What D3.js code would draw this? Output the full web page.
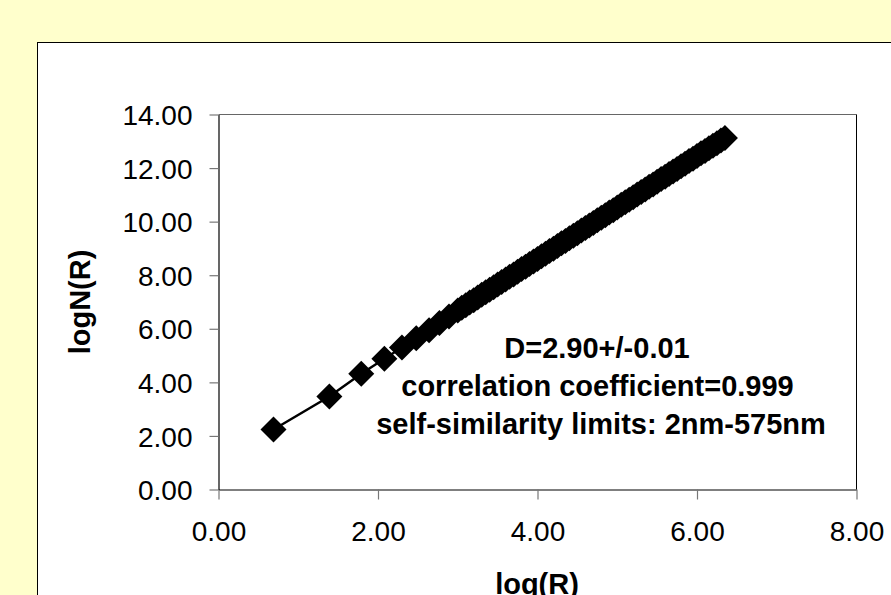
<!DOCTYPE html>
<html>
<head>
<meta charset="utf-8">
<script src="https://cdn.jsdelivr.net/npm/d3@7"></script>
<style>
  html, body { margin: 0; padding: 0; background: #FFFFCC; }
  svg { display: block; }
  text { font-family: "Liberation Sans", Arial, sans-serif; fill: #000; }
</style>
</head>
<body>
<svg id="chart" width="891" height="595"></svg>
<script>
// Box-counting data: log of radius R vs log of count N(R)
const logR = [0.69, 1.39, 1.79, 2.08, 2.30, 2.48, 2.64, 2.77, 2.89, 3.00,
  3.05, 3.10, 3.15, 3.20, 3.25, 3.30, 3.35, 3.40, 3.45, 3.50,
  3.55, 3.60, 3.65, 3.70, 3.75, 3.80, 3.85, 3.90, 3.95, 4.00,
  4.05, 4.10, 4.15, 4.20, 4.25, 4.30, 4.35, 4.40, 4.45, 4.50,
  4.55, 4.60, 4.65, 4.70, 4.75, 4.80, 4.85, 4.90, 4.95, 5.00,
  5.05, 5.10, 5.15, 5.20, 5.25, 5.30, 5.35, 5.40, 5.45, 5.50,
  5.55, 5.60, 5.65, 5.70, 5.75, 5.80, 5.85, 5.90, 5.95, 6.00,
  6.05, 6.10, 6.15, 6.20, 6.25, 6.30, 6.35];
const logN = [2.24, 3.47, 4.32, 4.88, 5.30, 5.65, 5.95, 6.22, 6.46, 6.68,
  6.79, 6.88, 6.98, 7.07, 7.17, 7.27, 7.36, 7.46, 7.55, 7.65,
  7.75, 7.84, 7.94, 8.03, 8.13, 8.23, 8.32, 8.42, 8.51, 8.61,
  8.71, 8.80, 8.90, 8.99, 9.09, 9.19, 9.28, 9.38, 9.47, 9.57,
  9.67, 9.76, 9.86, 9.95, 10.05, 10.15, 10.24, 10.34, 10.43, 10.53,
  10.63, 10.72, 10.82, 10.91, 11.01, 11.11, 11.20, 11.30, 11.39, 11.49,
  11.59, 11.68, 11.78, 11.87, 11.97, 12.07, 12.16, 12.26, 12.35, 12.45,
  12.55, 12.64, 12.74, 12.83, 12.93, 13.03, 13.12];

const xTicks = [0, 2, 4, 6, 8];
const yTicks = [0, 2, 4, 6, 8, 10, 12, 14];
const annotation = ["D=2.90+/-0.01", "correlation coefficient=0.999",
  "self-similarity limits: 2nm-575nm"];
const xTitle = "log(R)";
const yTitle = "logN(R)";

const points = logR.map((x, i) => ({ x, y: logN[i] }));

const svg = d3.select("#chart");

// chart panel
svg.append("rect")
  .attr("x", 37.5).attr("y", 42.5)
  .attr("width", 900).attr("height", 600)
  .attr("fill", "#fff").attr("stroke", "#000").attr("stroke-width", 1);

const plot = { left: 218.5, right: 856.5, top: 114.5, bottom: 489.5 };

const x = d3.scaleLinear().domain([0, 8]).range([plot.left, plot.right]);
const y = d3.scaleLinear().domain([0, 14]).range([plot.bottom, plot.top]);

// plot-area frame (top & right)
svg.append("line")
  .attr("x1", plot.left).attr("x2", plot.right)
  .attr("y1", plot.top).attr("y2", plot.top)
  .attr("stroke", "#666").attr("stroke-width", 1);
svg.append("line")
  .attr("x1", plot.right).attr("x2", plot.right)
  .attr("y1", plot.top).attr("y2", plot.bottom)
  .attr("stroke", "#000").attr("stroke-width", 1);

// axes
const xAxis = d3.axisBottom(x).tickValues(xTicks)
  .tickFormat(d3.format(".2f")).tickSize(10).tickPadding(22).tickSizeOuter(0);
const yAxis = d3.axisLeft(y).tickValues(yTicks)
  .tickFormat(d3.format(".2f")).tickSize(9).tickPadding(17).tickSizeOuter(0);

const gx = svg.append("g").attr("transform", `translate(0,${plot.bottom})`).call(xAxis);
const gy = svg.append("g").attr("transform", `translate(${plot.left},0)`).call(yAxis);

[gx, gy].forEach(g => {
  g.select(".domain").attr("stroke", "#000").attr("stroke-width", 1.2);
  g.selectAll(".tick line").attr("stroke", "#777").attr("stroke-width", 1.2);
  g.selectAll(".tick text")
    .attr("font-family", "'Liberation Sans', Arial, sans-serif")
    .attr("font-size", 28).attr("fill", "#000");
});
gx.selectAll(".tick text").attr("dy", "0.71em");
gy.selectAll(".tick text").attr("dy", "0.36em");

// connecting line
svg.append("path")
  .datum(points)
  .attr("d", d3.line().x(d => x(d.x)).y(d => y(d.y)))
  .attr("fill", "none").attr("stroke", "#000").attr("stroke-width", 2.5);

// diamond markers
const h = 13;
svg.append("g").selectAll("path")
  .data(points)
  .join("path")
  .attr("transform", d => `translate(${x(d.x)},${y(d.y)})`)
  .attr("d", `M0,${-h}L${h},0L0,${h}L${-h},0Z`)
  .attr("fill", "#000");

// annotation
svg.append("g").selectAll("text")
  .data(annotation)
  .join("text")
  .attr("x", (d, i) => [597, 597.5, 601][i])
  .attr("y", (d, i) => 358 + i * 38)
  .attr("text-anchor", "middle")
  .attr("font-weight", "bold")
  .attr("font-size", 29)
  .text(d => d);

// axis titles
svg.append("text")
  .attr("x", 537).attr("y", 594)
  .attr("text-anchor", "middle")
  .attr("font-weight", "bold").attr("font-size", 29)
  .text(xTitle);

svg.append("text")
  .attr("transform", "translate(90,302) rotate(-90)")
  .attr("text-anchor", "middle")
  .attr("font-weight", "bold").attr("font-size", 29)
  .text(yTitle);
</script>
</body>
</html>
